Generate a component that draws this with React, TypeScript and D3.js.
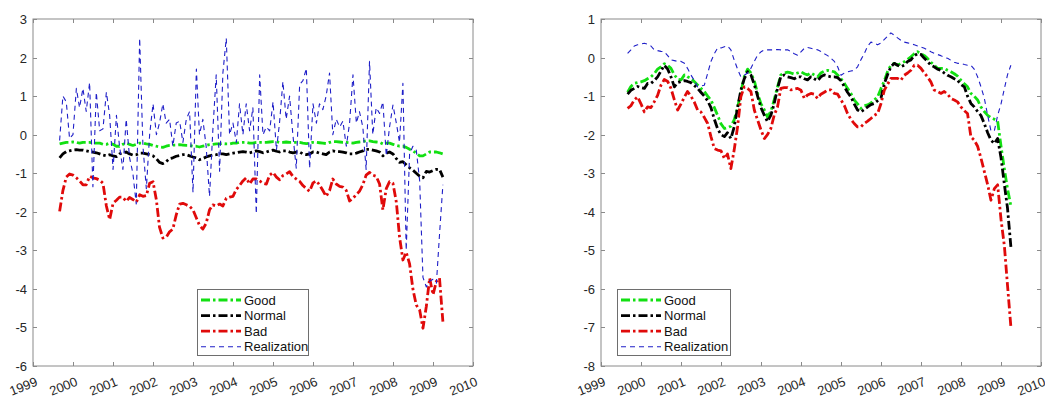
import { useRef, useEffect } from 'react';
import * as d3 from 'd3';

// monthly observations, Sep 1999 .. Apr 2009 (116 points)
const months = d3.timeMonth.range(new Date(1999, 8, 1), new Date(2009, 4, 1));
const yearTicks = d3.range(1999, 2011);

// ---- left panel ----
const leftGood = [
  -0.24, -0.22, -0.2, -0.2,
  -0.19, -0.2, -0.22, -0.2, -0.2, -0.2, -0.22, -0.22, -0.22, -0.25, -0.25, -0.22,
  -0.25, -0.3, -0.3, -0.25, -0.22, -0.25, -0.28, -0.25, -0.22, -0.22, -0.24, -0.25,
  -0.28, -0.3, -0.32, -0.33, -0.3, -0.28, -0.27, -0.27, -0.26, -0.27, -0.28, -0.28,
  -0.3, -0.3, -0.32, -0.3, -0.28, -0.26, -0.25, -0.24, -0.24, -0.23, -0.24, -0.24,
  -0.22, -0.22, -0.2, -0.2, -0.2, -0.22, -0.22, -0.2, -0.2, -0.2, -0.2, -0.19,
  -0.18, -0.18, -0.2, -0.2, -0.19, -0.2, -0.2, -0.2, -0.2, -0.22, -0.23, -0.22,
  -0.2, -0.2, -0.21, -0.22, -0.23, -0.2, -0.18, -0.18, -0.19, -0.2, -0.2, -0.21,
  -0.22, -0.2, -0.19, -0.18, -0.16, -0.16, -0.18, -0.19, -0.2, -0.24, -0.22, -0.22,
  -0.25, -0.28, -0.3, -0.3, -0.33, -0.38, -0.42, -0.48, -0.55, -0.55, -0.5, -0.45,
  -0.45, -0.45, -0.47, -0.5,
];
const leftNormal = [
  -0.6, -0.5, -0.44, -0.42,
  -0.4, -0.39, -0.4, -0.4, -0.42, -0.44, -0.45, -0.47, -0.5, -0.53, -0.55, -0.52,
  -0.55, -0.57, -0.5, -0.47, -0.45, -0.5, -0.53, -0.52, -0.48, -0.48, -0.5, -0.52,
  -0.55, -0.62, -0.72, -0.75, -0.7, -0.62, -0.6, -0.56, -0.54, -0.52, -0.52, -0.55,
  -0.58, -0.6, -0.65, -0.62, -0.58, -0.55, -0.53, -0.52, -0.5, -0.5, -0.52, -0.5,
  -0.48, -0.47, -0.45, -0.44, -0.45, -0.47, -0.45, -0.42, -0.44, -0.47, -0.45, -0.42,
  -0.4, -0.43, -0.45, -0.42, -0.42, -0.45, -0.47, -0.45, -0.45, -0.5, -0.52, -0.5,
  -0.45, -0.45, -0.48, -0.5, -0.52, -0.45, -0.42, -0.44, -0.44, -0.45, -0.47, -0.5,
  -0.5, -0.48, -0.45, -0.42, -0.38, -0.38, -0.4, -0.42, -0.45, -0.55, -0.48, -0.45,
  -0.5, -0.62, -0.72, -0.7, -0.78, -0.86, -0.92, -1.0, -1.08, -1.12, -0.95, -0.97,
  -0.93, -0.9, -0.9, -1.1,
];
const leftBad = [
  -1.99, -1.45, -1.1, -1.02,
  -1.05, -1.12, -1.2, -1.3, -1.3, -1.08, -1.12, -1.14, -1.18, -1.26, -1.85, -2.2,
  -1.78, -1.7, -1.62, -1.62, -1.73, -1.63, -1.68, -1.75, -1.56, -1.6, -1.58, -1.26,
  -1.22, -1.7, -2.4, -2.68, -2.66, -2.52, -2.45, -2.08, -1.8, -1.78, -1.82, -1.86,
  -1.95, -2.16, -2.35, -2.45, -2.3, -1.95, -1.82, -1.85, -1.8, -1.85, -1.65, -1.62,
  -1.6, -1.42, -1.32, -1.2, -1.12, -1.28, -1.15, -1.15, -1.2, -1.26, -1.28, -1.05,
  -0.98, -1.1, -1.17, -1.06, -1.02, -0.96, -1.08, -1.15, -1.21, -1.32, -1.4, -1.47,
  -1.25, -1.2, -1.3, -1.45, -1.6, -1.45, -1.15, -1.28, -1.34, -1.36, -1.45, -1.72,
  -1.65, -1.55, -1.47, -1.3, -1.05, -0.98, -1.05, -1.08, -1.28, -1.95, -1.4, -1.22,
  -1.26, -1.75, -2.65, -3.25, -3.05, -3.35, -4.0, -4.42, -4.55, -5.02, -4.45, -3.72,
  -4.15, -3.8, -3.72, -4.85,
];
const leftReal = [
  -0.15, 1.0, 0.85, -0.1,
  0.0, 1.2, 0.7, 1.2, 0.6, 1.35, -1.35, 1.1, 0.1, 0.15, 1.1, 0.5,
  -0.9, 0.5, -0.3, -0.9, 0.4, -0.6, -1.0, -1.8, 2.5, -0.3, -1.4, 0.0,
  0.8, 0.0, 0.3, 0.8, 0.3, 0.4, -0.3, 0.3, 0.35, -0.2, 0.4, 0.6,
  -1.5, 1.7, 0.0, 0.4, -0.3, -1.6, 0.1, 1.55, -0.95, 1.6, 2.5, 0.0,
  0.3, -0.2, 0.8, 0.0, 0.8, 0.1, 0.7, -2.05, 1.55, 0.0, 0.2, 0.1,
  0.85, -0.4, 0.3, 1.38, 0.4, 1.0, 0.0, -0.87, 1.3, 1.4, 1.72, -0.87,
  0.8, 0.3, 0.8, 0.65, 1.0, 1.6, 0.0, 0.4, 0.2, 0.35, -0.3, 0.3,
  1.55, 0.3, 0.6, 0.2, -0.9, 1.9, 0.0, 0.7, 0.55, 0.85, -0.55, 0.2,
  0.77, 0.3, -0.2, 1.33, -3.0, -0.5, -0.3, -0.4, -1.2, -3.7, -3.95, -3.8,
  -3.75, -3.85, -2.6, -1.3,
];

// ---- right panel ----
const rightGood = [
  -0.9, -0.75, -0.67, -0.65,
  -0.63, -0.6, -0.55, -0.5, -0.42, -0.3, -0.24, -0.16, -0.2, -0.28, -0.45, -0.56,
  -0.58, -0.45, -0.5, -0.54, -0.62, -0.71, -0.8, -0.88, -1.0, -1.1, -1.3, -1.5,
  -1.72, -1.84, -1.82, -1.78, -1.62, -1.3, -0.9, -0.5, -0.3, -0.4, -0.6, -0.93,
  -1.2, -1.36, -1.54, -1.4, -1.1, -0.76, -0.45, -0.4, -0.38, -0.4, -0.43, -0.4,
  -0.37, -0.42, -0.45, -0.4, -0.45, -0.5, -0.4, -0.35, -0.33, -0.35, -0.37, -0.45,
  -0.55, -0.67, -0.8, -0.93, -1.1, -1.2, -1.32, -1.25, -1.23, -1.18, -1.1, -1.02,
  -0.8, -0.6, -0.37, -0.2, -0.15, -0.2, -0.15, -0.11, -0.05, 0.02, 0.1, 0.15,
  0.1, 0.05, -0.02, -0.12, -0.2, -0.28, -0.28, -0.28, -0.33, -0.37, -0.42, -0.48,
  -0.59, -0.68, -0.76, -0.93, -1.0, -1.1, -1.28, -1.4, -1.5, -1.56, -1.6, -1.65,
  -2.3, -2.9, -3.4, -3.85,
];
const rightNormal = [
  -0.95, -0.85, -0.8, -0.75,
  -0.78, -0.8, -0.67, -0.67, -0.6, -0.5, -0.35, -0.2, -0.3, -0.5, -0.76, -0.65,
  -0.62, -0.6, -0.62, -0.65, -0.72, -0.8, -0.9, -1.0, -1.12, -1.3, -1.6, -1.85,
  -2.0, -2.05, -1.95, -2.1, -1.8, -1.3, -0.85, -0.55, -0.37, -0.45, -0.7, -1.0,
  -1.3, -1.5, -1.66, -1.5, -1.2, -0.8, -0.5, -0.45, -0.5, -0.52, -0.55, -0.5,
  -0.5, -0.55, -0.58, -0.5, -0.55, -0.6, -0.5, -0.45, -0.48, -0.5, -0.5, -0.52,
  -0.6, -0.76, -0.9, -1.02, -1.2, -1.36, -1.41, -1.35, -1.28, -1.22, -1.19, -1.12,
  -1.05, -0.67, -0.45, -0.24, -0.15, -0.2, -0.24, -0.2, -0.1, -0.06, 0.05, 0.1,
  0.08, -0.02, -0.1, -0.2, -0.24, -0.3, -0.33, -0.4, -0.46, -0.5, -0.55, -0.59,
  -0.7, -0.76, -1.0, -1.19, -1.28, -1.4, -1.5, -1.71, -1.95, -2.14, -2.23, -2.1,
  -2.6, -3.3, -3.9, -4.91,
];
const rightBad = [
  -1.32, -1.25, -1.1, -1.02,
  -1.2, -1.41, -1.28, -1.3, -1.15, -0.98, -0.72, -0.57, -0.62, -0.8, -1.1, -1.36,
  -1.2, -1.02, -0.88, -1.0, -1.15, -1.36, -1.41, -1.55, -1.71, -2.05, -2.36, -2.4,
  -2.42, -2.62, -2.5, -2.88, -2.4, -1.8, -1.02, -0.76, -0.8, -0.88, -1.36, -1.62,
  -1.88, -2.1, -2.0, -1.84, -1.5, -1.28, -0.8, -0.78, -0.78, -0.84, -0.82, -0.8,
  -0.85, -1.06, -0.97, -0.93, -0.95, -1.06, -0.95, -0.9, -0.84, -0.84, -0.93, -0.95,
  -1.1, -1.25, -1.45, -1.6, -1.71, -1.8, -1.8, -1.71, -1.65, -1.58, -1.5, -1.45,
  -1.19, -0.84, -0.7, -0.54, -0.54, -0.54, -0.59, -0.46, -0.4, -0.33, -0.2, -0.2,
  -0.28, -0.4, -0.5, -0.63, -0.84, -0.88, -0.93, -0.88, -0.95, -1.06, -1.1, -1.15,
  -1.28, -1.38, -1.45, -2.06, -2.14, -2.3, -2.6, -2.95, -3.3, -3.7, -3.4, -3.3,
  -4.2, -4.9, -5.9, -6.99,
];
const rightReal = [
  0.11, 0.2, 0.3, 0.33,
  0.35, 0.37, 0.35, 0.3, 0.2, 0.18, 0.16, 0.15, 0.05, -0.06, -0.08, -0.1,
  -0.1, -0.15, -0.28, -0.45, -0.59, -0.76, -0.74, -0.72, -0.41, -0.1, 0.1, 0.25,
  0.25, 0.28, 0.3, 0.2, -0.06, -0.3, -0.5, -0.46, -0.4, -0.28, -0.1, 0.06,
  0.15, 0.2, 0.2, 0.2, 0.2, 0.21, 0.2, 0.2, 0.2, 0.16, 0.1, 0.06,
  0.15, 0.24, 0.26, 0.24, 0.22, 0.2, 0.16, 0.1, 0.05, -0.02, -0.1, -0.24,
  -0.46, -0.4, -0.37, -0.35, -0.33, -0.24, -0.06, 0.1, 0.3, 0.4, 0.37, 0.33,
  0.38, 0.47, 0.55, 0.64, 0.58, 0.51, 0.45, 0.4, 0.38, 0.36, 0.33, 0.3,
  0.27, 0.24, 0.2, 0.15, 0.11, 0.08, 0.05, 0.0, -0.02, -0.07, -0.12, -0.15,
  -0.15, -0.18, -0.2, -0.2, -0.3, -0.5, -0.75, -1.05, -1.5, -1.9, -1.9, -1.5,
  -1.2, -0.8, -0.45, -0.2,
];

const seriesNames = ['Good', 'Normal', 'Bad', 'Realization'];
const seriesColors = ['#12e012', '#000000', '#e00a0a', '#1f1fc8'];

const FONT = '"Liberation Sans", Arial, sans-serif';

const panels = [
  { left: 33, yDomain: [-6, 3], data: [leftGood, leftNormal, leftBad, leftReal], legendX: 197, legendW: 111 },
  { left: 601, yDomain: [-8, 1], data: [rightGood, rightNormal, rightBad, rightReal], legendX: 617, legendW: 113 },
];

const App = () => {
  const svgRef = useRef(null);

  useEffect(() => {
    const svg = d3.select(svgRef.current);
    svg.selectAll('*').remove();

    const top = 19, bottom = 366, pw = 440;
    const styles = [
      { w: 2.8, dash: '9,3,2.5,3' },
      { w: 2.8, dash: '9,3,2.5,3' },
      { w: 2.8, dash: '9,3,2.5,3' },
      { w: 1.1, dash: '5,4' },
    ];

    panels.forEach((p) => {
      const g = svg.append('g');
      const x = d3.scaleTime()
        .domain([new Date(1999, 0, 1), new Date(2010, 0, 1)])
        .range([p.left, p.left + pw]);
      const y = d3.scaleLinear().domain(p.yDomain).range([bottom, top]);
      const yTicks = d3.range(p.yDomain[0], p.yDomain[1] + 1);

      // white box
      g.append('rect')
        .attr('x', p.left).attr('y', top)
        .attr('width', pw).attr('height', bottom - top)
        .attr('fill', '#fff').attr('stroke', '#8a8a8a').attr('stroke-width', 1);

      // x ticks (inward, top and bottom)
      yearTicks.forEach((yr) => {
        const xx = Math.round(x(new Date(yr, 0, 1))) + 0.5;
        g.append('line').attr('x1', xx).attr('x2', xx).attr('y1', bottom).attr('y2', bottom - 4)
          .attr('stroke', '#8a8a8a');
        g.append('line').attr('x1', xx).attr('x2', xx).attr('y1', top).attr('y2', top + 4)
          .attr('stroke', '#8a8a8a');
        g.append('text')
          .attr('transform', `translate(${xx + 5},${bottom + 19}) rotate(-22)`)
          .attr('text-anchor', 'end')
          .style('font-family', FONT).style('font-size', '13px').style('fill', '#262626')
          .text(yr);
      });

      // y ticks
      yTicks.forEach((v) => {
        const yy = Math.round(y(v)) + 0.5;
        g.append('line').attr('x1', p.left).attr('x2', p.left + 4).attr('y1', yy).attr('y2', yy)
          .attr('stroke', '#8a8a8a');
        g.append('line').attr('x1', p.left + pw).attr('x2', p.left + pw - 4).attr('y1', yy).attr('y2', yy)
          .attr('stroke', '#8a8a8a');
        g.append('text')
          .attr('x', p.left - 6).attr('y', yy).attr('dy', '0.35em')
          .attr('text-anchor', 'end')
          .style('font-family', FONT).style('font-size', '13px').style('fill', '#262626')
          .text(v);
      });

      // series lines
      const line = d3.line<number>()
        .x((_, i) => x(months[i]))
        .y((d) => y(d));

      p.data.forEach((vals, k) => {
        g.append('path')
          .datum(vals)
          .attr('d', line)
          .attr('fill', 'none')
          .attr('stroke', seriesColors[k])
          .attr('stroke-width', styles[k].w)
          .attr('stroke-dasharray', styles[k].dash)
          .attr('stroke-linejoin', 'round');
      });

      // legend
      const lg = g.append('g').attr('transform', `translate(${p.legendX},289)`);
      lg.append('rect')
        .attr('x', 0.5).attr('y', 0.5).attr('width', p.legendW).attr('height', 66)
        .attr('fill', '#fff').attr('stroke', '#6e6e6e').attr('stroke-width', 1);
      seriesNames.forEach((name, k) => {
        const ly = 11 + k * 15.6;
        lg.append('line')
          .attr('x1', 4).attr('x2', 44).attr('y1', ly).attr('y2', ly)
          .attr('stroke', seriesColors[k])
          .attr('stroke-width', styles[k].w)
          .attr('stroke-dasharray', styles[k].dash);
        lg.append('text')
          .attr('x', 47).attr('y', ly).attr('dy', '0.35em')
          .style('font-family', FONT).style('font-size', '13px').style('fill', '#111')
          .text(name);
      });
    });
  }, []);

  return (
    <div style={{ position: 'absolute', left: 0, top: 0 }}>
      <svg ref={svgRef} width={1045} height={399} style={{ display: 'block', background: '#fff' }} />
    </div>
  );
};

export default App;
